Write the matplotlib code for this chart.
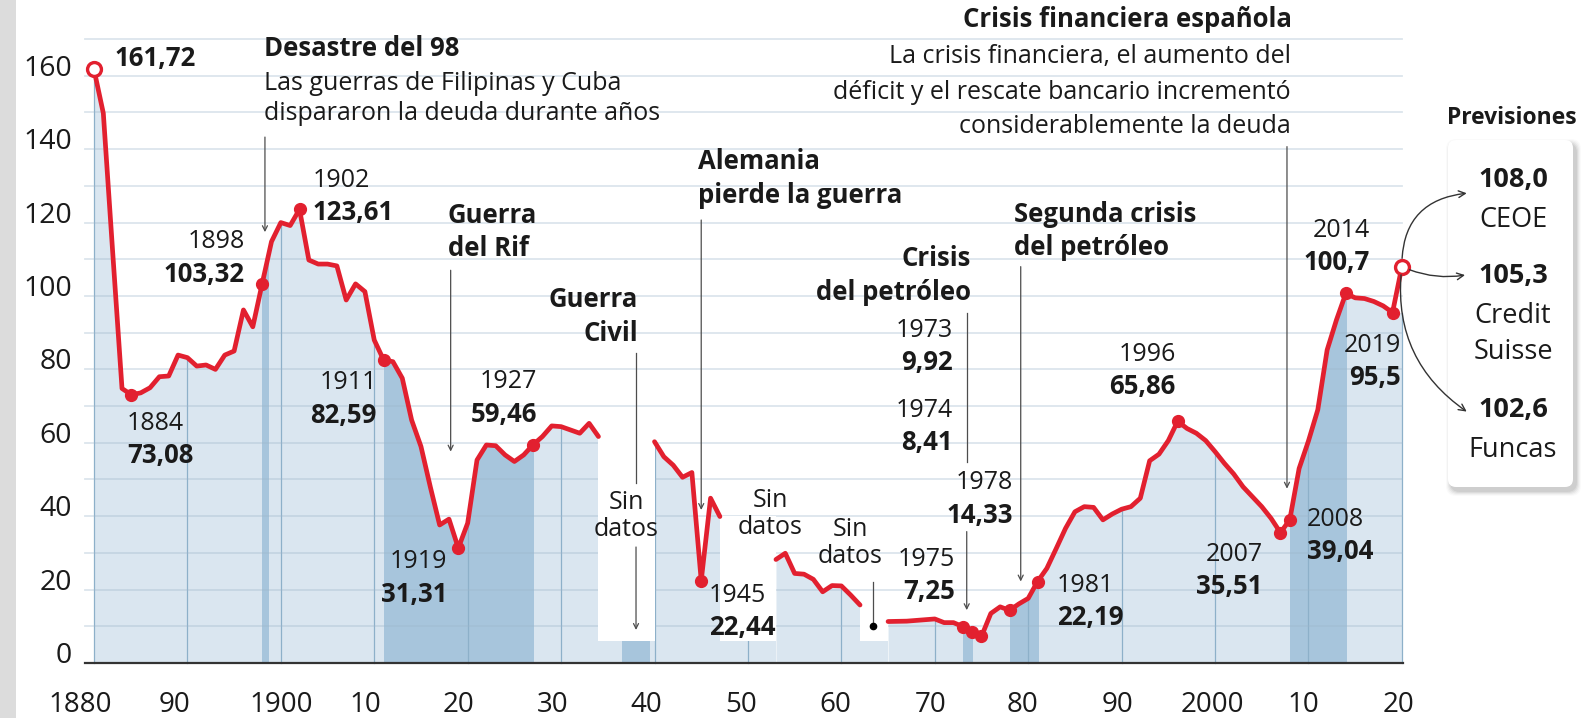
import matplotlib
matplotlib.use("Agg")
import matplotlib.pyplot as plt
from matplotlib.patches import Rectangle, FancyBboxPatch
from matplotlib.transforms import IdentityTransform

plt.rcParams['font.family'] = ['Open Sans', 'DejaVu Sans']

# ==========================================
# DATA (deuda pública, % del PIB)
# ==========================================
years_a = list(range(1880, 1935))
debt_a = [161.72, 149.8, 112.0, 74.8, 73.08, 73.6, 75.0, 78.0, 78.2, 83.9,
          83.2, 80.9, 81.2, 80.0, 83.9, 85.0, 96.2, 91.6, 103.32, 114.8,
          120.0, 119.2, 123.61, 109.8, 108.7, 108.7, 108.2, 98.9, 103.3, 101.2,
          88.0, 82.59, 82.1, 77.6, 66.2, 59.0, 48.0, 37.6, 39.2, 31.31,
          38.1, 55.3, 59.4, 59.2, 56.7, 54.9, 56.7, 59.46, 61.7, 64.6,
          64.4, 63.5, 62.6, 65.3, 61.7]
years_b = list(range(1940, 1948))
debt_b = [60.3, 56.2, 53.9, 50.6, 51.9, 22.44, 44.9, 39.9]
years_c = list(range(1953, 1963))
debt_c = [28.2, 29.9, 24.4, 24.2, 22.8, 19.4, 21.1, 21.0, 18.5, 15.8]
years_d = list(range(1965, 2020))
debt_d = [11.3, 11.35, 11.4, 11.6, 11.8, 12.0, 11.0, 11.0, 9.92, 8.41,
          7.25, 13.5, 15.3, 14.33, 16.1, 17.6, 22.19, 25.8, 31.2, 36.7,
          41.2, 42.6, 42.4, 39.0, 40.6, 41.9, 42.6, 44.9, 55.1, 56.9,
          60.6, 65.86, 63.9, 62.6, 60.6, 57.6, 54.4, 51.5, 48.0, 45.3,
          42.6, 39.4, 35.51, 39.04, 53.0, 60.5, 69.0, 85.3, 93.5, 100.7,
          99.5, 99.3, 98.5, 97.3, 95.5]

forecast_year = 2020
forecast_vals = [108.0, 105.3, 102.6]
forecast_src = [["CEOE"], ["Credit", "Suisse"], ["Funcas"]]

marked_years = [1884, 1898, 1902, 1911, 1919, 1927, 1945, 1973, 1974, 1975,
                1978, 1981, 1996, 2007, 2008, 2014, 2019]

dark_bands = [(1898.0, 1898.6), (1911, 1927), (1973, 1974), (1978, 1981), (2008, 2014)]
gaps = [(1934, 1940), (1947, 1953), (1962, 1965)]
gap_box_tops = [62, 40, 16]
gap_level = 5.9
civil_war_block = (1936.5, 1939.5)

xtick_labels = ['1880', '90', '1900', '10', '20', '30', '40', '50', '60', '70',
                '80', '90', '2000', '10', '20']
ytick_vals = [0, 20, 40, 60, 80, 100, 120, 140, 160]

# ==========================================
# STYLE
# ==========================================
LIGHT = '#dae6f0'
DARK = '#a7c5dc'
EDGE = '#8db0c9'
RED = '#e2202f'
INK = '#1a1a1a'
ARROW = '#4d4d4d'
NORMAL = 18
BOLD = 18.5

fig = plt.figure(figsize=(15.82, 7.18), dpi=100)
ax = fig.add_axes([0, 0, 1, 1])
ax.set_xlim(1869.94, 2039.28)
ax.set_ylim(-14.99, 180.65)
ax.axis('off')

# grey strip on the left edge
fig.patches.append(Rectangle((0, 0), 16 / 1582, 1, transform=fig.transFigure,
                             color='#dcdcdc', lw=0, zorder=0))

segments = [(years_a, debt_a), (years_b, debt_b), (years_c, debt_c), (years_d, debt_d)]
value_at = {}
for ys, vs in segments:
    value_at.update(dict(zip(ys, vs)))

# --- fills ---
for g0, g1 in gaps:
    ax.add_patch(Rectangle((g0, 0), g1 - g0, gap_level, color=LIGHT, lw=0, zorder=1))
ax.add_patch(Rectangle((civil_war_block[0], 0), civil_war_block[1] - civil_war_block[0],
                       gap_level, color=DARK, lw=0, zorder=1.5))

for ys, vs in segments:
    xs, ws = list(ys), list(vs)
    if ys is years_d:
        xs = xs + [forecast_year]
        ws = ws + [vs[-1]]
    ax.fill_between(xs, ws, 0, color=LIGHT, lw=0, zorder=1)
    for b0, b1 in dark_bands:
        if b1 <= xs[0] or b0 >= xs[-1]:
            continue
        dk = ax.fill_between(xs, ws, 0, color=DARK, lw=0, zorder=1.5)
        dk.set_clip_path(Rectangle((b0, -1), b1 - b0, 200, transform=ax.transData))

# decade lines inside the fill
for d in range(1880, 2030, 10):
    top = value_at.get(d, gap_level)
    if d == forecast_year:
        top = debt_d[-1]
    ax.plot([d, d], [0, top], color=EDGE, lw=0.9, zorder=2)

# horizontal grid
for v in range(10, 180, 10):
    ax.plot([1879.04, 2020], [v, v], color='#9db6ca', alpha=0.35, lw=1.3, zorder=2.5)

# white "sin datos" boxes over the grid
for (g0, g1), top in zip(gaps, gap_box_tops):
    ax.add_patch(Rectangle((g0, gap_level), g1 - g0, top - gap_level, color='white',
                           lw=0, zorder=2.7))

# base axis
ax.plot([1879.04, 2020.1], [0, 0], color='#333333', lw=1.6, zorder=4)

# --- red line ---
for ys, vs in segments:
    ax.plot(ys, vs, color=RED, lw=3.4, solid_joinstyle='round',
            solid_capstyle='round', zorder=5)
ax.plot([years_d[-1], forecast_year], [debt_d[-1], forecast_vals[0]], color=RED,
        lw=3.4, solid_capstyle='round', zorder=5)
ax.plot(marked_years, [value_at[y] for y in marked_years], 'o', ms=8.5,
        color=RED, zorder=6)
ax.plot([years_a[0], forecast_year], [debt_a[0], forecast_vals[0]], 'o', ms=10,
        mfc='white', mec=RED, mew=2.4, zorder=7)


def txt(x, y, s, ha='left', bold=False, size=None, z=8):
    if size is None:
        size = BOLD if bold else NORMAL
    ax.text(x, y, s, ha=ha, va='baseline', fontsize=size, color=INK,
            fontweight='bold' if bold else 'normal', zorder=z)


def arrow(x, y0, y1):
    ax.annotate('', xy=(x, y1), xytext=(x, y0), zorder=3,
                arrowprops=dict(arrowstyle='->', color=ARROW, lw=0.9,
                                shrinkA=0, shrinkB=0, mutation_scale=9))


def vline(x, y0, y1):
    ax.plot([x, x], [y0, y1], color=ARROW, lw=0.9, zorder=3)


# --- axis labels ---
for v in ytick_vals:
    ax.text(1877.65, v, str(v), ha='right', va='baseline', fontsize=20.5, color=INK)
xtick_pos = [1878.55, 1888.67, 1900.07, 1909.0, 1919.07, 1929.13, 1939.09, 1949.26,
             1959.32, 1969.6, 1979.44, 1989.61, 1999.73, 2009.5, 2019.6]
for xp, lab in zip(xtick_pos, xtick_labels):
    ax.text(xp, -13.4, lab, ha='center', va='baseline', fontsize=20, color=INK)

# --- year / value callouts ---
callouts = [(1884, 1883.53, 63.5, 'left'), (1898, 1896.16, 113.0, 'right'),
            (1902, 1903.44, 129.8, 'left'), (1911, 1910.29, 74.6, 'right'),
            (1919, 1917.79, 25.8, 'right'), (1927, 1927.42, 74.8, 'right'),
            (1945, 1945.83, 16.7, 'left'), (1973, 1971.95, 88.9, 'right'),
            (1974, 1971.95, 67.1, 'right'), (1975, 1972.16, 26.4, 'right'),
            (1978, 1978.37, 47.3, 'right'), (1981, 1983.08, 19.4, 'left'),
            (1996, 1995.82, 82.4, 'right'), (2007, 2005.13, 27.9, 'right'),
            (2008, 2009.85, 37.4, 'left'), (2014, 2016.59, 116.2, 'right'),
            (2019, 2019.9, 84.8, 'right')]
one_decimal = {2014, 2019}
for yr, xp, yb, ha in callouts:
    val = value_at[yr]
    s = (f"{val:.1f}" if yr in one_decimal else f"{val:.2f}").replace('.', ',')
    txt(xp, yb, str(yr), ha=ha)
    txt(xp, yb - 9.1, s, ha=ha, bold=True)
txt(1882.25, 162.7, f"{debt_a[0]:.2f}".replace('.', ','), bold=True)

# --- event annotations ---
txt(1898.2, 165.5, "Desastre del 98", bold=True)
txt(1898.2, 156.1, "Las guerras de Filipinas y Cuba")
txt(1898.2, 148.0, "dispararon la deuda durante años")
arrow(1898.3, 143.3, 117.4)

txt(1917.89, 120.0, "Guerra", bold=True)
txt(1917.89, 110.9, "del Rif", bold=True)
arrow(1918.18, 107.0, 57.6)

txt(1938.23, 96.9, "Guerra", ha='right', bold=True)
txt(1938.23, 87.6, "Civil", ha='right', bold=True)
vline(1938.02, 84.5, 49.0)
arrow(1938.02, 31.6, 9.0)

txt(1944.65, 134.5, "Alemania", bold=True)
txt(1944.65, 125.4, "pierde la guerra", bold=True)
arrow(1945.0, 120.7, 41.7)

for cx, yb in [(1936.95, 41.9), (1952.36, 42.4), (1960.92, 34.6)]:
    txt(cx, yb, "Sin", ha='center')
    txt(cx, yb - 7.3, "datos", ha='center')
vline(1963.4, 22.1, 10.2)
ax.plot([1963.4], [10.2], 'o', ms=4.5, color='black', zorder=6)

txt(1973.88, 108.2, "Crisis", ha='right', bold=True)
txt(1973.88, 98.9, "del petróleo", ha='right', bold=True)
vline(1973.42, 95.4, 54.9)
arrow(1973.42, 35.8, 14.4)

txt(1978.48, 120.2, "Segunda crisis", bold=True)
txt(1978.48, 111.1, "del petróleo", bold=True)
arrow(1979.2, 108.0, 22.2)

txt(2008.24, 173.3, "Crisis financiera española", ha='right', bold=True)
txt(2008.13, 163.6, "La crisis financiera, el aumento del", ha='right')
txt(2008.13, 153.6, "déficit y el rescate bancario incrementó", ha='right')
txt(2008.13, 144.5, "considerablemente la deuda", ha='right')
arrow(2007.7, 140.7, 47.5)

# --- forecasts box ---
txt(2024.83, 146.9, "Previsiones", bold=True, size=16.5)
bx0, by0, bw, bh = 1448, 718 - 487, 125, 347
for i, a in enumerate([0.06, 0.05, 0.04, 0.03, 0.02]):
    g = i + 1
    ax.add_patch(FancyBboxPatch((bx0 + 3 - g, by0 - 4 - g), bw + 2 * g, bh + 2 * g,
                                boxstyle="round,pad=0,rounding_size=10",
                                transform=IdentityTransform(), fc='black',
                                ec='none', alpha=a, zorder=8.5, clip_on=False))
ax.add_patch(FancyBboxPatch((bx0, by0), bw, bh, boxstyle="round,pad=0,rounding_size=8",
                            transform=IdentityTransform(), fc='white', ec='none',
                            zorder=9, clip_on=False))

box_cx = 2031.9
value_base = [129.6, 103.6, 66.9]
for val, src, yb in zip(forecast_vals, forecast_src, value_base):
    ax.text(box_cx, yb, f"{val:.1f}".replace('.', ','), ha='center', va='baseline',
            fontsize=19.5, fontweight='bold', color=INK, zorder=10)
    for k, line in enumerate(src):
        ax.text(box_cx, yb - 10.9 - k * 10.0, line, ha='center', va='baseline',
                fontsize=19.5, color=INK, zorder=10)

arrow_ends = [(2026.94, 128.0, -0.45), (2026.76, 105.7, 0.15), (2026.94, 68.5, 0.3)]
for ex, ey, rad in arrow_ends:
    ax.annotate('', xy=(ex, ey), xytext=(forecast_year, forecast_vals[0]), zorder=10,
                arrowprops=dict(arrowstyle='->', color='#333333', lw=1.0,
                                connectionstyle=f'arc3,rad={rad}',
                                shrinkA=6, shrinkB=0, mutation_scale=12))

fig.savefig('out.png', dpi=100, facecolor='white')
